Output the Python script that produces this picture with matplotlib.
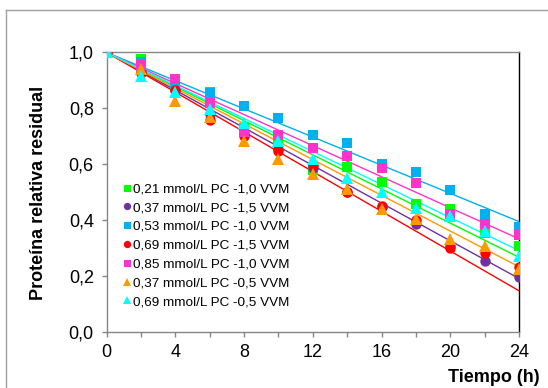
import matplotlib.pyplot as plt
from matplotlib.lines import Line2D
from matplotlib.ticker import FuncFormatter, MultipleLocator

plt.rcParams['font.family'] = ['Liberation Sans', 'DejaVu Sans']

# Tiempo (h)
t = [0, 2, 4, 6, 8, 10, 12, 14, 16, 18, 20, 22, 24]

# Proteína relativa residual, one list per condition
green_021_10 = [1.0, 0.976, 0.88, 0.857, 0.73, 0.69, 0.58, 0.591, 0.537, 0.456, 0.44, 0.353, 0.306]
purple_037_15 = [1.0, 0.93, 0.865, 0.78, 0.71, 0.655, 0.585, 0.50, 0.445, 0.385, 0.305, 0.254, 0.194]
blue_053_10 = [1.0, 0.967, 0.89, 0.854, 0.809, 0.764, 0.704, 0.675, 0.60, 0.571, 0.507, 0.42, 0.376]
red_069_15 = [1.0, 0.928, 0.865, 0.758, 0.70, 0.647, 0.597, 0.501, 0.45, 0.40, 0.30, 0.28, 0.23]
pink_085_10 = [1.0, 0.955, 0.904, 0.818, 0.716, 0.704, 0.659, 0.63, 0.587, 0.534, 0.42, 0.384, 0.346]
orange_037_05 = [1.0, 0.94, 0.826, 0.768, 0.683, 0.618, 0.565, 0.51, 0.439, 0.403, 0.33, 0.306, 0.224]
cyan_069_05 = [1.0, 0.916, 0.857, 0.797, 0.749, 0.683, 0.618, 0.55, 0.50, 0.444, 0.413, 0.36, 0.271]

# trend lines: start (t=0) and end (t=24) values
trend_t = [0, 24]
trend_start = [1.0, 1.0, 1.0, 1.0, 1.0, 1.0, 1.0]
trend_end = [0.266, 0.19, 0.394, 0.146, 0.332, 0.232, 0.29]

labels = ['0,21 mmol/L PC -1,0 VVM', '0,37 mmol/L PC -1,5 VVM',
          '0,53 mmol/L PC -1,0 VVM', '0,69 mmol/L PC -1,5 VVM',
          '0,85 mmol/L PC -1,0 VVM', '0,37 mmol/L PC -0,5 VVM',
          '0,69 mmol/L PC -0,5 VVM']
series = [green_021_10, purple_037_15, blue_053_10, red_069_15,
          pink_085_10, orange_037_05, cyan_069_05]
colors = ['#00FF00', '#7030A0', '#00B0F0', '#FF0000', '#FF33CC', '#FF9900', '#00FFFF']
markers = ['s', 'o', 's', 'o', 's', '^', '^']
msizes = [7.2, 7.5, 7.2, 7.5, 7.2, 8.0, 8.0]

fig = plt.figure(figsize=(5.48, 3.88), dpi=100)
ax = fig.add_axes([0.1947, 0.1456, 0.7524, 0.7191])

# trend lines first, markers on top
for i in range(len(series)):
    ax.plot(trend_t, [trend_start[i], trend_end[i]], color=colors[i], lw=1.0, zorder=2)

handles = []
for i, y in enumerate(series):
    h, = ax.plot(t, y, linestyle='none', marker=markers[i], ms=msizes[i],
                 color=colors[i], markeredgewidth=0, label=labels[i], zorder=3)
    handles.append(h)

ax.set_xlim(0, 24)
ax.set_ylim(0, 1.0)
ax.xaxis.set_major_locator(MultipleLocator(4))
ax.xaxis.set_minor_locator(MultipleLocator(2))
ax.yaxis.set_major_locator(MultipleLocator(0.2))
ax.yaxis.set_major_formatter(FuncFormatter(lambda v, p: f'{v:.1f}'.replace('.', ',')))
ax.tick_params(axis='both', which='both', direction='out', length=3.3, width=1,
               color='#868686', labelsize=13, pad=6)

for s in ['left', 'bottom', 'top']:
    ax.spines[s].set_color('#868686')
    ax.spines[s].set_linewidth(1.0)
ax.spines['right'].set_color('black')
ax.spines['right'].set_linewidth(1.0)
for s in ax.spines.values():
    s.set_zorder(1)

fig.text(38.5 / 548, 1 - 193 / 388, 'Proteína relativa residual', rotation=90,
         ha='center', va='center', fontsize=13, fontweight='bold')
fig.text(540 / 548, 1 - 378 / 388, 'Tiempo (h)', ha='right', va='center',
         fontsize=13, fontweight='bold')

leg = ax.legend(handles=handles, loc='upper left', bbox_to_anchor=(122.5 / 548, 1 - 183 / 388),
                bbox_transform=fig.transFigure, frameon=False, fontsize=9.7,
                handlelength=0.6, handletextpad=0.15, labelspacing=0.47,
                borderpad=0, borderaxespad=0, markerscale=0.7)

# outer chart frame (gray, left and top edges visible)
fig.add_artist(Line2D([6 / 548, 6 / 548], [0, 1 - 10 / 388], color='#A0A0A0', lw=1.0,
                      transform=fig.transFigure))
fig.add_artist(Line2D([6 / 548, 1], [1 - 10 / 388, 1 - 10 / 388], color='#A0A0A0', lw=1.0,
                      transform=fig.transFigure))

fig.savefig('out.png', dpi=100)
